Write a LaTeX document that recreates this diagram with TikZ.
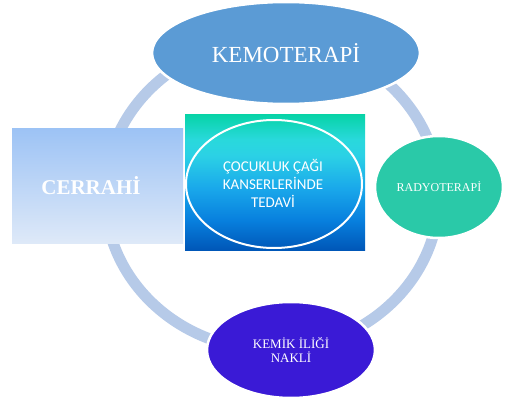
\documentclass[tikz,border=0pt]{standalone}
\usepackage{fontspec}
\setmainfont{Liberation Serif}
\newfontfamily\calib{Carlito}
\usetikzlibrary{shapes.geometric}
\definecolor{ringc}{RGB}{182,202,232}
\definecolor{kemoc}{RGB}{91,155,213}
\definecolor{radyoc}{RGB}{42,201,168}
\definecolor{kemikc}{RGB}{58,26,214}
\definecolor{rtop}{RGB}{157,195,245}
\definecolor{rbot}{RGB}{222,233,248}
\pgfdeclareverticalshading{centergrad}{100bp}{%
 rgb(0bp)=(0,0.34,0.72);
 rgb(25bp)=(0,0.34,0.72);
 rgb(36bp)=(0.03,0.50,0.87);
 rgb(48bp)=(0.10,0.66,0.92);
 rgb(60bp)=(0.17,0.82,0.90);
 rgb(66bp)=(0.16,0.85,0.86);
 rgb(75bp)=(0.03,0.83,0.66);
 rgb(100bp)=(0.03,0.83,0.66)}
\tikzset{
  ring/.style={draw=ringc, line width=11pt},
  bubble/.style={ellipse, inner sep=0pt, draw=white, line width=2.5pt, text=white, align=center},
}
\begin{document}
\begin{tikzpicture}[x=1pt,y=-1pt]
\useasboundingbox[fill=white] (0,0) rectangle (515,404);
% ring
\draw[ring] (272,195) ellipse [x radius=167, y radius=155];
% CERRAHI rectangle
\shade[top color=rtop, bottom color=rbot] (12,129) rectangle (183,243);
\node[text=white, font=\fontsize{21}{24}\selectfont\bfseries] (cerrahi) at (91,186) {CERRAHİ};
% center square
\shade[shading=centergrad] (185,115) rectangle (365,250);
\node[ellipse, draw=white, line width=2pt, minimum width=176pt, minimum height=128pt, inner sep=0pt] (centerell) at (274,184) {};
\node[text=white, align=center, font=\calib\fontsize{15}{18}\selectfont] (center) at (273,183) {ÇOCUKLUK ÇAĞI\\KANSERLERİNDE\\TEDAVİ};
% satellites
\node[bubble, fill=kemoc, minimum width=268pt, minimum height=102pt, font=\fontsize{23}{26}\selectfont] (kemo) at (286,53) {KEMOTERAPİ};
\node[bubble, fill=radyoc, minimum width=128pt, minimum height=102pt, font=\fontsize{12}{14}\selectfont] (radyo) at (439,187) {RADYOTERAPİ};
\node[bubble, fill=kemikc, minimum width=168pt, minimum height=96pt, font=\fontsize{13}{14}\selectfont] (kemik) at (291,350) {KEMİK İLİĞİ\\NAKLİ};
\end{tikzpicture}
\end{document}
